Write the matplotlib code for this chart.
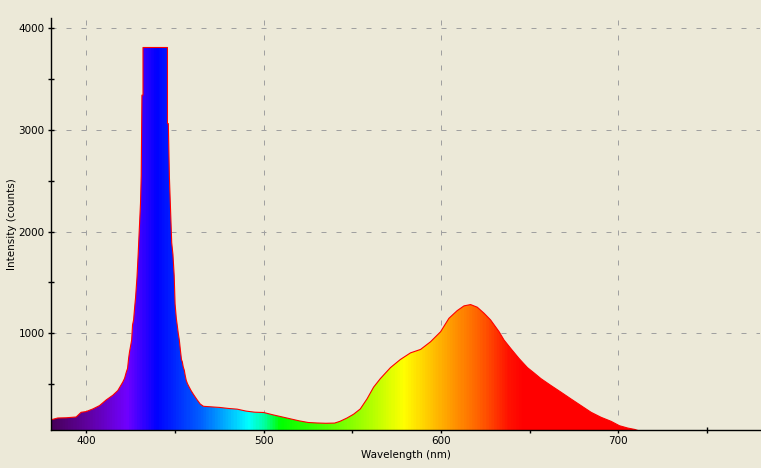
import numpy as np
import matplotlib
matplotlib.use("Agg")
import matplotlib.pyplot as plt
from matplotlib.colors import LinearSegmentedColormap

# spectrum (nm, counts)
wavelength = [380, 383.8, 388.5, 394.2, 397, 399.8, 403.6, 407.4, 411.1, 414.9,
              417.7, 420.5, 421.5, 422.5, 423.2, 423.8, 424.3, 425, 425.5, 426,
              426.6, 427.2, 427.7, 428.5, 429.2, 429.6, 430.5, 430.9, 431.3, 431.9,
              431.9, 445.7, 445.7, 446.2, 446.8, 447.5, 448.1, 448.8, 449.5, 450,
              450.7, 451.2, 451.8, 452.4, 453, 453.6, 454.1, 454.6, 455.2, 455.7,
              456.3, 457, 458, 459, 460.4, 462.3, 464.2, 466, 470, 475,
              480, 485, 490, 495, 500, 505, 510, 515, 520, 525,
              530, 535, 540, 543, 547, 550.7, 554.5, 558.3, 562, 565.8,
              571.5, 577.1, 582.8, 588.5, 594.1, 599.8, 604.5, 609.2, 613, 616.7,
              620.5, 624.3, 628, 632.8, 635.6, 639.4, 644.1, 648.8, 652.6, 656.4,
              662, 667.7, 673.3, 679, 684.7, 690.3, 696, 700.7, 705.4, 709.2,
              712]
counts = [150, 168, 170, 178, 224, 231, 257, 290, 345, 392,
          438, 521, 557, 620, 656, 755, 818, 885, 934, 1082,
          1132, 1257, 1350, 1547, 1785, 1940, 2280, 2550, 3342, 3342,
          3810, 3810, 3062, 3062, 2535, 2188, 1891, 1775, 1567, 1290,
          1148, 1082, 1000, 934, 835, 743, 719, 670, 637, 587,
          538, 505, 471, 438, 399, 350, 305, 283, 278, 272,
          262, 255, 236, 225, 222, 200, 180, 160, 140, 124,
          119, 116, 118, 135, 168, 205, 257, 356, 471, 555,
          663, 743, 808, 842, 917, 1016, 1148, 1224, 1270, 1283,
          1257, 1198, 1132, 1016, 934, 851, 752, 663, 610, 555,
          488, 422, 356, 290, 224, 175, 135, 92, 69, 56,
          40]

# colour of the fill along the wavelength axis
spec_nm = [380, 400, 422, 439, 464, 481, 491, 500, 509, 530, 560, 579, 600, 622, 639, 647, 780]
spec_col = ["#48005c", "#6000a0", "#7000ff", "#0000ff", "#0060ff", "#00c0ff", "#00ffff",
            "#00ffa0", "#00ff00", "#40ff00", "#b0ff00", "#ffff00", "#ffb000", "#ff6000",
            "#ff1000", "#ff0000", "#ff0000"]

x_min, x_max = 380, 780
y_min, y_max = 50, 4100
bg = "#ece9d8"

fig = plt.figure(figsize=(7.61, 4.68), dpi=100, facecolor=bg)
ax = fig.add_axes([51 / 761, 1 - 430 / 468, 709 / 761, 412 / 468], facecolor=bg)

ax.grid(True, which="major", color="#a0a0a0", linewidth=0.72, linestyle=(0, (5, 10)))
ax.set_axisbelow(True)

# rainbow gradient, clipped to the area under the spectrum
pos = [(n - x_min) / (x_max - x_min) for n in spec_nm]
cmap = LinearSegmentedColormap.from_list("spectrum", list(zip(pos, spec_col)))
grad = np.linspace(0, 1, 800).reshape(1, -1)
poly = ax.fill_between(wavelength, y_min - 100, counts, color="none", lw=0)
img = ax.imshow(grad, cmap=cmap, aspect="auto", extent=[x_min, x_max, y_min - 100, y_max],
                origin="lower", interpolation="bilinear", zorder=2)
img.set_clip_path(poly.get_paths()[0], transform=ax.transData)
ax.plot(wavelength, counts, color="#ff0000", linewidth=0.8, zorder=3)

ax.set_xlim(x_min, x_max)
ax.set_ylim(y_min, y_max)

for side in ("top", "right"):
    ax.spines[side].set_visible(False)
for side in ("left", "bottom"):
    ax.spines[side].set_color("black")
    ax.spines[side].set_linewidth(1.0)
    ax.spines[side].set_zorder(4)

ax.set_xticks([400, 500, 600, 700])
ax.set_xticks([450, 550, 650, 750], minor=True)
ax.set_yticks([1000, 2000, 3000, 4000])
ax.set_yticks([500, 1500, 2500, 3500], minor=True)
ax.tick_params(axis="both", which="both", direction="inout", length=5, width=1,
               labelsize=7.5, colors="black", pad=2)

ax.set_xlabel("Wavelength (nm)", fontsize=7.5, labelpad=3)
ax.set_ylabel("Intensity (counts)", fontsize=7.5, labelpad=1)

fig.savefig("out.png", dpi=100, facecolor=bg)
